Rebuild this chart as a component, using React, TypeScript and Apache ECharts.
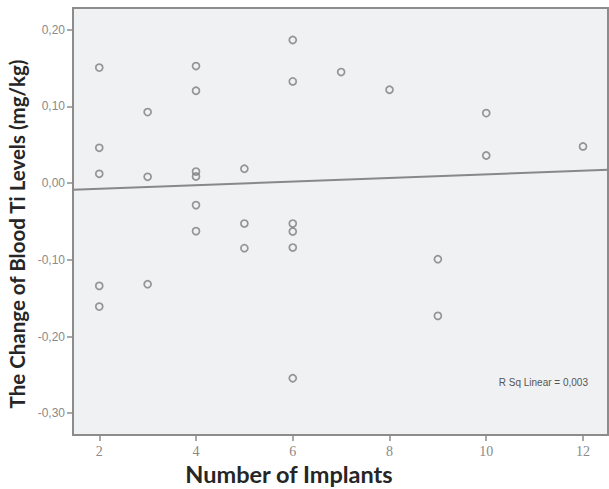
import React, { useEffect, useRef } from "react";
import * as echarts from "echarts";

const implants2 = [0.1506, 0.046, 0.0121, -0.134, -0.161];
const implants3 = [0.0926, 0.0082, -0.1318];
const implants4 = [0.1526, 0.1204, 0.0151, 0.0086, -0.0287, -0.0626];
const implants5 = [0.0187, -0.0527, -0.0848];
const implants6 = [0.1866, 0.1326, -0.0527, -0.0631, -0.084, -0.2544];
const implants7 = [0.1448];
const implants8 = [0.1217];
const implants9 = [-0.0992, -0.1731];
const implants10 = [0.0913, 0.036];
const implants12 = [0.0478];

const groups: [number, number[]][] = [
  [2, implants2],
  [3, implants3],
  [4, implants4],
  [5, implants5],
  [6, implants6],
  [7, implants7],
  [8, implants8],
  [9, implants9],
  [10, implants10],
  [12, implants12],
];

const xTicks = [2, 4, 6, 8, 10, 12];
const yTicks = [-0.3, -0.2, -0.1, 0, 0.1, 0.2];
const xRange = [1.457, 12.517];
const yRange = [-0.3284, 0.2283];
const fitLine = [
  [1.457, -0.0087],
  [12.517, 0.0174],
];
const rSqText = "R Sq Linear = 0,003";
const xTitle = "Number of Implants";
const yTitle = "The Change of Blood Ti Levels (mg/kg)";

export default function App() {
  const ref = useRef<HTMLDivElement>(null);
  useEffect(() => {
    document.body.style.margin = "0";
    const chart = echarts.init(ref.current!, null, { renderer: "svg" });
    const points: number[][] = [];
    groups.forEach(([x, ys]) => ys.forEach((y) => points.push([x, y])));
    chart.setOption({
      animation: false,
      backgroundColor: "#ffffff",
      grid: {
        left: 73,
        top: 8,
        right: 1,
        bottom: 54,
        show: true,
        backgroundColor: "#f0f1f3",
        borderColor: "#8c8c8c",
        borderWidth: 2,
      },
      xAxis: {
        type: "value",
        min: xRange[0],
        max: xRange[1],
        splitLine: { show: false },
        axisLine: { show: false, onZero: false },
        axisTick: {
          show: true,
          customValues: xTicks,
          length: 6,
          lineStyle: { color: "#8c8c8c", width: 1.5 },
        },
        axisLabel: {
          customValues: xTicks,
          margin: 9,
          color: "#8a8a8a",
          fontFamily: "Liberation Serif",
          fontSize: 14,
          formatter: (v: number) => String(Math.round(v)),
        },
      },
      yAxis: {
        type: "value",
        min: yRange[0],
        max: yRange[1],
        splitLine: { show: false },
        axisLine: { show: false, onZero: false },
        axisTick: {
          show: true,
          customValues: yTicks,
          length: 6,
          lineStyle: { color: "#8c8c8c", width: 1.5 },
        },
        axisLabel: {
          customValues: yTicks,
          margin: 8,
          color: "#8a8a8a",
          fontFamily: "Liberation Sans",
          fontSize: 12,
          formatter: (v: number) => v.toFixed(2).replace(".", ","),
        },
      },
      series: [
        {
          type: "line",
          data: fitLine,
          showSymbol: false,
          symbol: "none",
          lineStyle: { color: "#888888", width: 2 },
          silent: true,
          z: 1,
        },
        {
          type: "scatter",
          data: points,
          symbol: "circle",
          symbolSize: 7,
          itemStyle: {
            color: "rgba(0,0,0,0)",
            borderColor: "#7d7d7d",
            borderWidth: 1.7,
          },
          z: 2,
        },
      ],
      graphic: [
        {
          type: "text",
          x: 588,
          y: 382,
          style: {
            text: rSqText,
            align: "right",
            verticalAlign: "middle",
            fill: "#555555",
            font: "10px 'Liberation Sans'",
          },
        },
        {
          type: "text",
          x: 289,
          y: 474,
          style: {
            text: xTitle,
            align: "center",
            verticalAlign: "middle",
            fill: "#262626",
            font: "bold 23.5px Lato",
          },
        },
        {
          type: "text",
          x: 17,
          y: 234,
          rotation: Math.PI / 2,
          style: {
            text: yTitle,
            align: "center",
            verticalAlign: "middle",
            fill: "#262626",
            font: "bold 20.5px Lato",
          },
        },
      ],
    });
    return () => chart.dispose();
  }, []);
  return <div ref={ref} style={{ width: 609, height: 489 }} />;
}
